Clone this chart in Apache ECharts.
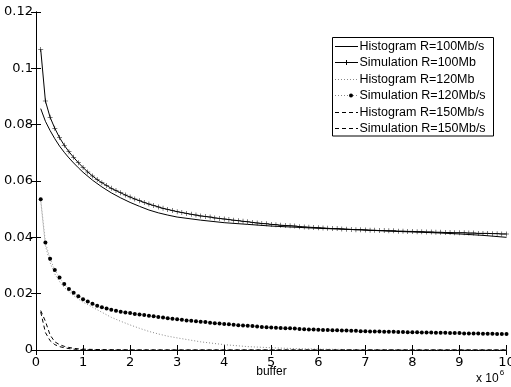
<!DOCTYPE html>
<html>
<head>
<meta charset="utf-8">
<script src="https://cdn.jsdelivr.net/npm/echarts@6/dist/echarts.min.js"></script>
<style>
  html, body { margin: 0; padding: 0; background: #fff; }
  #chart { width: 511px; height: 387px; }
</style>
</head>
<body>
<div id="chart"></div>
<script>
// Buffer sizes in units of 10^6 for the simulated runs (one point every 0.1e6)
const simBuffer = [
  0.1, 0.2, 0.3, 0.4, 0.5, 0.6, 0.7, 0.8, 0.9, 1.0,
  1.1, 1.2, 1.3, 1.4, 1.5, 1.6, 1.7, 1.8, 1.9, 2.0,
  2.1, 2.2, 2.3, 2.4, 2.5, 2.6, 2.7, 2.8, 2.9, 3.0,
  3.1, 3.2, 3.3, 3.4, 3.5, 3.6, 3.7, 3.8, 3.9, 4.0,
  4.1, 4.2, 4.3, 4.4, 4.5, 4.6, 4.7, 4.8, 4.9, 5.0,
  5.1, 5.2, 5.3, 5.4, 5.5, 5.6, 5.7, 5.8, 5.9, 6.0,
  6.1, 6.2, 6.3, 6.4, 6.5, 6.6, 6.7, 6.8, 6.9, 7.0,
  7.1, 7.2, 7.3, 7.4, 7.5, 7.6, 7.7, 7.8, 7.9, 8.0,
  8.1, 8.2, 8.3, 8.4, 8.5, 8.6, 8.7, 8.8, 8.9, 9.0,
  9.1, 9.2, 9.3, 9.4, 9.5, 9.6, 9.7, 9.8, 9.9, 10.0
];

const sim100 = [
  0.1067, 0.0884, 0.0826, 0.0787, 0.0754, 0.0727, 0.0704, 0.0684, 0.0665, 0.0648,
  0.0632, 0.0618, 0.0605, 0.0594, 0.0584, 0.0574, 0.0566, 0.0558, 0.0550, 0.0543,
  0.0536, 0.0530, 0.0524, 0.0518, 0.0513, 0.0508, 0.0503, 0.0499, 0.0495, 0.0491,
  0.0488, 0.0485, 0.0482, 0.0479, 0.0476, 0.0474, 0.0472, 0.0469, 0.0467, 0.0465,
  0.0463, 0.0461, 0.0459, 0.0457, 0.0455, 0.0453, 0.0451, 0.0449, 0.0448, 0.0446,
  0.0445, 0.0443, 0.0442, 0.0441, 0.0440, 0.0438, 0.0437, 0.0436, 0.0435, 0.0434,
  0.0433, 0.0432, 0.0431, 0.0431, 0.0430, 0.0429, 0.0428, 0.0427, 0.0427, 0.0426,
  0.0425, 0.0425, 0.0424, 0.0424, 0.0423, 0.0423, 0.0422, 0.0422, 0.0421, 0.0421,
  0.0420, 0.0420, 0.0419, 0.0419, 0.0418, 0.0418, 0.0417, 0.0417, 0.0416, 0.0416,
  0.0416, 0.0415, 0.0415, 0.0414, 0.0414, 0.0414, 0.0413, 0.0413, 0.0412, 0.0412
];

const sim120 = [
  0.0535, 0.0382, 0.0324, 0.0284, 0.0257, 0.0234, 0.0217, 0.0203, 0.0191, 0.0180,
  0.0172, 0.0164, 0.0157, 0.0152, 0.0147, 0.0143, 0.0139, 0.0136, 0.0133, 0.0131,
  0.0128, 0.0126, 0.0124, 0.0122, 0.0120, 0.0117, 0.0115, 0.0113, 0.0111, 0.0109,
  0.0107, 0.0105, 0.0104, 0.0102, 0.0100, 0.0099, 0.0097, 0.0095, 0.0094, 0.0092,
  0.0091, 0.0090, 0.0088, 0.0087, 0.0086, 0.0085, 0.0083, 0.0082, 0.0081, 0.0080,
  0.0079, 0.0078, 0.0077, 0.0077, 0.0076, 0.0075, 0.0074, 0.0073, 0.0073, 0.0072,
  0.0071, 0.0071, 0.0070, 0.0070, 0.0069, 0.0069, 0.0068, 0.0068, 0.0067, 0.0067,
  0.0066, 0.0066, 0.0066, 0.0065, 0.0065, 0.0065, 0.0064, 0.0064, 0.0063, 0.0063,
  0.0063, 0.0062, 0.0062, 0.0062, 0.0061, 0.0061, 0.0061, 0.0060, 0.0060, 0.0060,
  0.0059, 0.0059, 0.0059, 0.0059, 0.0058, 0.0058, 0.0058, 0.0057, 0.0057, 0.0057
];

// Histogram-based estimates, sampled on a coarser buffer grid
const histBuffer = [
  0.1, 0.2, 0.3, 0.4, 0.5, 0.6, 0.7, 0.8, 0.9, 1.0,
  1.2, 1.4, 1.6, 1.8, 2.0, 2.2, 2.4, 2.6, 2.8, 3.0,
  3.5, 4.0, 4.5, 5.0, 5.5, 6.0, 6.5, 7.0, 7.5, 8.0,
  8.5, 9.0, 9.5, 10.0
];

const hist100 = [
  0.0857, 0.0812, 0.0779, 0.0750, 0.0724, 0.0702, 0.0682, 0.0664, 0.0647, 0.0631,
  0.0603, 0.0579, 0.0558, 0.0540, 0.0524, 0.0510, 0.0497, 0.0487, 0.0479, 0.0472,
  0.0461, 0.0452, 0.0446, 0.0440, 0.0436, 0.0432, 0.0429, 0.0426, 0.0422, 0.0419,
  0.0416, 0.0412, 0.0407, 0.0400
];

const hist120 = [
  0.0530, 0.0370, 0.0310, 0.0270, 0.0243, 0.0222, 0.0207, 0.0193, 0.0181, 0.0170,
  0.0152, 0.0134, 0.0116, 0.0102, 0.0089, 0.0077, 0.0066, 0.0057, 0.0049, 0.0043,
  0.0029, 0.0019, 0.0012, 0.0008, 0.0005, 0.0003, 0.0002, 0.0001, 0.0001, 0.0000,
  0.0000, 0.0000, 0.0000, 0.0000
];

// R = 150 Mb/s: both curves vanish quickly, so the grid is dense only near the origin
const buffer150 = [
  0.1, 0.2, 0.3, 0.4, 0.5, 0.6, 0.7, 0.8, 0.9, 1.0,
  1.2, 1.5, 2.0, 3.0, 4.0, 5.0, 6.0, 7.0, 8.0, 9.0, 10.0
];

const hist150 = [
  0.0135, 0.0062, 0.0033, 0.0019, 0.0012, 0.0008, 0.0005, 0.0003, 0.0002, 0.0001,
  0.00005, 0.00002, 0, 0, 0, 0, 0, 0, 0, 0, 0
];

const sim150 = [
  0.0140, 0.0102, 0.0053, 0.0029, 0.0019, 0.0013, 0.0009, 0.0006, 0.0004, 0.0003,
  0.0002, 0.0001, 0.00003, 0, 0, 0, 0, 0, 0, 0, 0
];

const seriesNames = [
  'Histogram R=100Mb/s',
  'Simulation R=100Mb',
  'Histogram R=120Mb',
  'Simulation R=120Mb/s',
  'Histogram R=150Mb/s',
  'Simulation R=150Mb/s'
];

const xTickMax = 10;
const yTickMax = 0.12;
const yTickStep = 0.02;

function pairs(xs, ys) {
  return xs.map((x, i) => [x, ys[i]]);
}

const PLUS = 'path://M0,4.5H10V5.5H0Z M4.5,0H5.5V10H4.5Z';
const DOTTED = [1, 2];
const DASHED = [4, 3];
const tickFont = { fontFamily: 'DejaVu Sans', fontSize: 13, color: '#000' };

const chart = echarts.init(document.getElementById('chart'), null, { renderer: 'canvas' });

const axisCommon = {
  axisLine: { show: true, lineStyle: { color: '#000', width: 1 } },
  axisTick: { show: true, inside: true, length: 5, lineStyle: { color: '#000', width: 1 } },
  splitLine: { show: false }
};

// Legend drawn as a boxed panel in the upper right
const legendStyles = [
  { dash: null, color: '#000', mark: null },
  { dash: null, color: '#000', mark: 'plus' },
  { dash: DOTTED, color: '#888', mark: null },
  { dash: DOTTED, color: '#888', mark: 'dot' },
  { dash: DASHED, color: '#000', mark: null },
  { dash: DASHED, color: '#000', mark: null }
];
const legendRows = [9.5, 25.5, 42.5, 58.5, 75.5, 91.5];
const legendChildren = [{
  type: 'rect',
  shape: { x: 0.5, y: 0.5, width: 161, height: 98.5 },
  style: { fill: '#fff', stroke: '#000', lineWidth: 1 }
}];
seriesNames.forEach((name, i) => {
  const cy = legendRows[i];
  const st = legendStyles[i];
  legendChildren.push({
    type: 'line',
    shape: { x1: 3, y1: cy, x2: 26, y2: cy },
    style: { stroke: st.color, lineWidth: 1, lineDash: st.dash }
  });
  if (st.mark === 'plus') {
    legendChildren.push({ type: 'line', shape: { x1: 12, y1: cy, x2: 17, y2: cy }, style: { stroke: '#000', lineWidth: 1 } });
    legendChildren.push({ type: 'line', shape: { x1: 14.5, y1: cy - 2.5, x2: 14.5, y2: cy + 2.5 }, style: { stroke: '#000', lineWidth: 1 } });
  } else if (st.mark === 'dot') {
    legendChildren.push({ type: 'circle', shape: { cx: 19, cy: cy, r: 2 }, style: { fill: '#000' } });
  }
  legendChildren.push({
    type: 'text',
    x: 27.5, y: cy,
    style: {
      text: name, fill: '#000',
      font: '12.5px "Liberation Sans", Arial, sans-serif',
      verticalAlign: 'middle', align: 'left'
    }
  });
});

const option = {
  animation: false,
  backgroundColor: '#fff',
  grid: { left: 36, right: 4.5, top: 12, bottom: 37, outerBoundsMode: 'none', containLabel: false },
  xAxis: [
    Object.assign({
      type: 'value', position: 'bottom', min: 0, max: xTickMax, interval: 1,
      axisLabel: Object.assign({ margin: 6, showMaxLabel: true, showMinLabel: true }, tickFont)
    }, axisCommon),
    Object.assign({
      type: 'value', position: 'top', min: 0, max: xTickMax, interval: 1,
      axisLabel: { show: false }
    }, axisCommon)
  ],
  yAxis: [
    Object.assign({
      type: 'value', position: 'left', min: 0, max: yTickMax, interval: yTickStep,
      axisLabel: Object.assign({ margin: 3, showMaxLabel: true, showMinLabel: true }, tickFont)
    }, axisCommon),
    Object.assign({
      type: 'value', position: 'right', min: 0, max: yTickMax, interval: yTickStep,
      axisLabel: { show: false }
    }, axisCommon)
  ],
  series: [
    {
      name: seriesNames[0], type: 'line', data: pairs(histBuffer, hist100),
      symbol: 'none', lineStyle: { color: '#000', width: 1 }, z: 3
    },
    {
      name: seriesNames[1], type: 'line', data: pairs(simBuffer, sim100),
      symbol: PLUS, symbolSize: 5, showAllSymbol: true,
      itemStyle: { color: '#000' }, lineStyle: { color: '#000', width: 1 }, z: 4
    },
    {
      name: seriesNames[2], type: 'line', data: pairs(histBuffer, hist120),
      symbol: 'none', lineStyle: { color: '#888', width: 1, type: DOTTED }, z: 2
    },
    {
      name: seriesNames[3], type: 'line', data: pairs(simBuffer, sim120),
      symbol: 'circle', symbolSize: 4, showAllSymbol: true,
      itemStyle: { color: '#000', borderWidth: 0 },
      lineStyle: { color: '#999', width: 1, type: DOTTED }, z: 4
    },
    {
      name: seriesNames[4], type: 'line', data: pairs(buffer150, hist150),
      symbol: 'none', lineStyle: { color: '#000', width: 1, type: DASHED }, z: 3
    },
    {
      name: seriesNames[5], type: 'line', data: pairs(buffer150, sim150),
      symbol: 'none', lineStyle: { color: '#000', width: 1, type: DASHED }, z: 3
    }
  ],
  graphic: [
    { type: 'group', x: 332, y: 37, z: 100, children: legendChildren },
    {
      // x-axis title
      type: 'text', x: 271.5, y: 372, z: 100,
      style: {
        text: 'buffer', fill: '#000',
        font: '12px "Liberation Sans", Arial, sans-serif',
        verticalAlign: 'middle', align: 'center'
      }
    },
    {
      // axis multiplier, x 10 with a raised exponent
      type: 'text', x: 476, y: 366, z: 100,
      style: {
        text: '{base|x 10}{exp|6}',
        rich: {
          base: { fontFamily: 'Liberation Sans', fontSize: 12, fill: '#000', padding: [7, 0, 0, 0] },
          exp: { fontFamily: 'Liberation Sans', fontSize: 8, fill: '#000', padding: [0, 0, 5, 1] }
        },
        verticalAlign: 'top', align: 'left'
      }
    }
  ]
};

chart.setOption(option);
</script>
</body>
</html>
